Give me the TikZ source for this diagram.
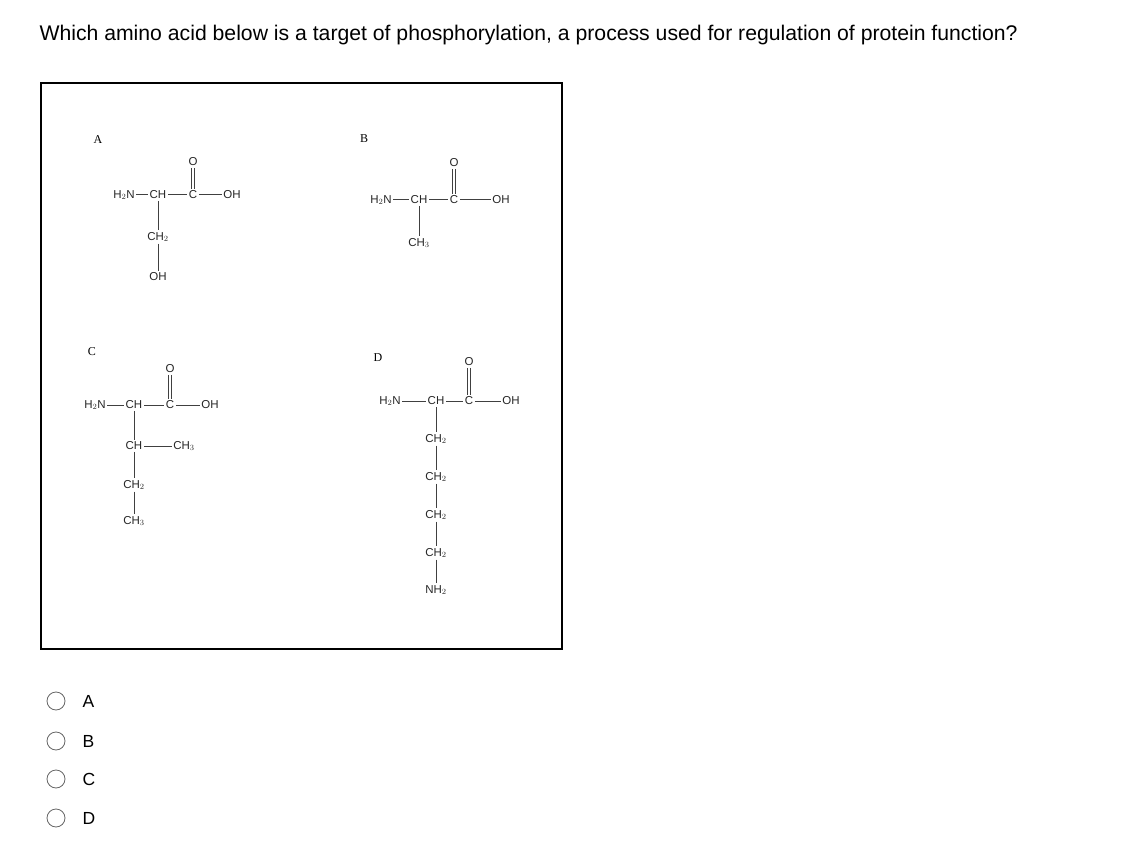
\documentclass[tikz,border=0pt]{standalone}
\usepackage{fontspec}
\setmainfont{Liberation Sans}
\newfontfamily\serifl{Liberation Serif}
\begin{document}
\begin{tikzpicture}[x=1pt,y=-1pt,
  ch/.style={font=\fontsize{11.5}{11.5}\selectfont, inner sep=1.5pt, text=black!85},
  lbl/.style={font=\serifl\fontsize{12}{12}\selectfont},
  bond/.style={line width=1pt, black!75},
  opt/.style={font=\fontsize{17.5}{17.5}\selectfont, anchor=west},
  radio/.style={circle, draw=black!60, line width=0.8pt, minimum size=18pt, inner sep=0pt}]
\useasboundingbox (0,0) rectangle (1144,856);
\node[anchor=west, font=\fontsize{21.2}{21.2}\selectfont] (q) at (36,35) {Which amino acid below is a target of phosphorylation, a process used for regulation of protein function?};
\draw[line width=2.5pt] (41,83) rectangle (562,649);
% A
\node[lbl] (la) at (98,140) {A};
\node[ch] (a1) at (124,195) {H$_2$N};
\node[ch] (a2) at (158,195) {CH};
\node[ch] (a3) at (193,195) {C};
\node[ch] (a4) at (232,195) {OH};
\node[ch] (a5) at (193,162) {O};
\node[ch] (a6) at (158,237) {CH$_2$};
\node[ch] (a7) at (158,277) {OH};
\draw[bond] (a1)--(a2) (a2)--(a3) (a3)--(a4) (a2)--(a6) (a6)--(a7);
\draw[bond] ([xshift=-1.6pt]a5.south)--([xshift=-1.6pt]a3.north) ([xshift=1.6pt]a5.south)--([xshift=1.6pt]a3.north);
% B
\node[lbl] (lb) at (364,139) {B};
\node[ch] (b1) at (381,200) {H$_2$N};
\node[ch] (b2) at (419,200) {CH};
\node[ch] (b3) at (454,200) {C};
\node[ch] (b4) at (501,200) {OH};
\node[ch] (b5) at (454,163) {O};
\node[ch] (b6) at (419,243) {CH$_3$};
\draw[bond] (b1)--(b2) (b2)--(b3) (b3)--(b4) (b2)--(b6);
\draw[bond] ([xshift=-1.6pt]b5.south)--([xshift=-1.6pt]b3.north) ([xshift=1.6pt]b5.south)--([xshift=1.6pt]b3.north);
% C
\node[lbl] (lc) at (92,352) {C};
\node[ch] (c1) at (95,405) {H$_2$N};
\node[ch] (c2) at (134,405) {CH};
\node[ch] (c3) at (170,405) {C};
\node[ch] (c4) at (210,405) {OH};
\node[ch] (c5) at (170,369) {O};
\node[ch] (c6) at (134,446) {CH};
\node[ch] (c7) at (184,446) {CH$_3$};
\node[ch] (c8) at (134,485) {CH$_2$};
\node[ch] (c9) at (134,521) {CH$_3$};
\draw[bond] (c1)--(c2) (c2)--(c3) (c3)--(c4) (c2)--(c6) (c6)--(c7) (c6)--(c8) (c8)--(c9);
\draw[bond] ([xshift=-1.6pt]c5.south)--([xshift=-1.6pt]c3.north) ([xshift=1.6pt]c5.south)--([xshift=1.6pt]c3.north);
% D
\node[lbl] (ld) at (378,358) {D};
\node[ch] (d1) at (390,401) {H$_2$N};
\node[ch] (d2) at (436,401) {CH};
\node[ch] (d3) at (469,401) {C};
\node[ch] (d4) at (511,401) {OH};
\node[ch] (d5) at (469,362) {O};
\node[ch] (d6) at (436,439) {CH$_2$};
\node[ch] (d7) at (436,477) {CH$_2$};
\node[ch] (d8) at (436,515) {CH$_2$};
\node[ch] (d9) at (436,553) {CH$_2$};
\node[ch] (d10) at (436,590) {NH$_2$};
\draw[bond] (d1)--(d2) (d2)--(d3) (d3)--(d4) (d2)--(d6) (d6)--(d7) (d7)--(d8) (d8)--(d9) (d9)--(d10);
\draw[bond] ([xshift=-1.6pt]d5.south)--([xshift=-1.6pt]d3.north) ([xshift=1.6pt]d5.south)--([xshift=1.6pt]d3.north);
% options
\node[radio] (r1) at (56,701) {};
\node[radio] (r2) at (56,741) {};
\node[radio] (r3) at (56,779) {};
\node[radio] (r4) at (56,818) {};
\node[opt] (o1) at (79,701) {A};
\node[opt] (o2) at (79,741) {B};
\node[opt] (o3) at (79,779) {C};
\node[opt] (o4) at (79,818) {D};
\end{tikzpicture}
\end{document}
